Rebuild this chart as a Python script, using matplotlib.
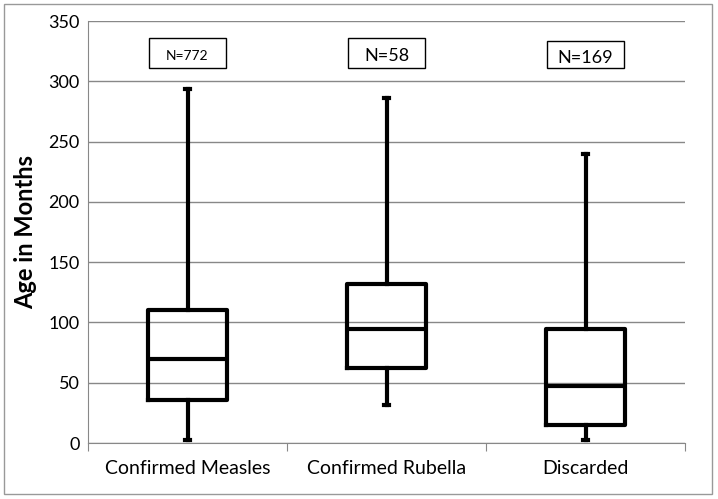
import matplotlib.pyplot as plt
from matplotlib.patches import Rectangle

# box plot summary values
groups = ['Confirmed Measles', 'Confirmed Rubella', 'Discarded']
whislo = [2.5, 31.5, 2.5]
q1 = [35.5, 62, 15]
med = [70, 94.5, 47]
q3 = [110, 132, 94.5]
whishi = [294, 286, 240]
n_labels = ['N=772', 'N=58', 'N=169']
n_sizes = [10, 13, 13]

plt.rcParams['font.family'] = ['Lato', 'DejaVu Sans']

fig = plt.figure(figsize=(7.18, 4.99), dpi=100)
ax = fig.add_axes([88 / 718, 1 - 443 / 499, 597 / 718, 422 / 499])

stats = []
for i in range(len(groups)):
    stats.append({'label': groups[i], 'whislo': whislo[i], 'q1': q1[i], 'med': med[i],
                  'q3': q3[i], 'whishi': whishi[i], 'fliers': []})

lw = 3
ax.bxp(stats, positions=range(len(groups)), widths=0.4, showfliers=False,
       boxprops=dict(color='black', linewidth=lw),
       medianprops=dict(color='black', linewidth=lw),
       whiskerprops=dict(color='black', linewidth=lw),
       capprops=dict(color='black', linewidth=lw),
       capwidths=0.03)

ax.set_xlim(-0.5, 2.5)
ax.set_ylim(0, 350)
ax.set_yticks(range(0, 351, 50))
ax.yaxis.grid(True, color='#888888', linewidth=1)
ax.set_axisbelow(True)

ax.set_xticks([-0.5, 0.5, 1.5, 2.5], minor=False)
ax.set_xticklabels([])
ax.set_xticks([0, 1, 2], minor=True)
ax.set_xticklabels(groups, minor=True, fontsize=14)
ax.tick_params(axis='x', which='minor', length=0, pad=12)
ax.tick_params(axis='x', which='major', length=6, color='#888888', direction='out')
ax.tick_params(axis='y', length=0, labelsize=13, pad=6)

for side in ['top', 'right']:
    ax.spines[side].set_visible(False)
for side in ['left', 'bottom']:
    ax.spines[side].set_color('#888888')

ax.set_ylabel('Age in Months', fontsize=17, fontweight='bold', labelpad=8)

# N label text boxes
box_w = 0.39
box_lo = [311, 311, 311]
box_hi = [336, 336, 333]
for i, lab in enumerate(n_labels):
    ax.add_patch(Rectangle((i - box_w / 2, box_lo[i]), box_w, box_hi[i] - box_lo[i],
                           facecolor='white', edgecolor='black', linewidth=1, zorder=3))
    ax.text(i, (box_lo[i] + box_hi[i]) / 2 - 2.5, lab, ha='center', va='center',
            fontsize=n_sizes[i], zorder=4)

# outer chart border
fig.patches.append(Rectangle((4 / 718, 5 / 499), 708 / 718, 490 / 499, transform=fig.transFigure,
                             fill=False, edgecolor='#999999', linewidth=1))

fig.savefig('out.png', dpi=100)
